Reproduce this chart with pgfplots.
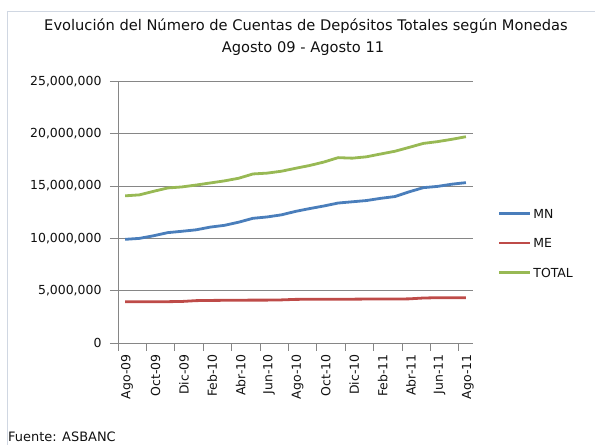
\documentclass[border=0pt]{standalone}
\usepackage{fontspec}
\setmainfont{DejaVu Sans}
\usepackage{pgfplots}
\pgfplotsset{compat=1.18}
\definecolor{mn}{HTML}{4A7EBB}
\definecolor{me}{HTML}{BE4B48}
\definecolor{tot}{HTML}{98B954}
\definecolor{gridc}{HTML}{868686}
\definecolor{framec}{HTML}{D0D7E2}
\definecolor{txt}{HTML}{101010}
\begin{document}
\begin{tikzpicture}[x=1bp,y=1bp]
\useasboundingbox (-118,-102) rectangle (477,343);
\draw[framec, line width=1bp] (-111,331.5) -- (477,331.5);
\draw[framec, line width=1bp] (-110.5,332) -- (-110.5,-102);
\node[font=\fontsize{14.7}{16}\selectfont, text=txt] at (188, 317) {Evolución del Número de Cuentas de Depósitos Totales según Monedas};
\node[font=\fontsize{14.7}{16}\selectfont, text=txt] at (185, 294) {Agosto 09 - Agosto 11};
\node[anchor=west, inner sep=0pt, font=\fontsize{13}{15}\selectfont, text=txt] at (-110, -94) {Fuente: ASBANC};
\begin{axis}[
  at={(0,0)}, anchor=south west,
  scale only axis, width=355bp, height=261.5bp,
  xmin=-0.5, xmax=24.5, ymin=0, ymax=25000000,
  axis x line*=bottom, axis y line*=left,
  axis line style={gridc, line width=0.8bp},
  ymajorgrids, grid style={gridc, line width=0.8bp},
  tick align=outside, major tick length=8bp,
  tick style={gridc, line width=0.8bp},
  scaled y ticks=false,
  ytick={0,5000000,10000000,15000000,20000000,25000000},
  yticklabels={0,{5,000,000},{10,000,000},{15,000,000},{20,000,000},{25,000,000}},
  yticklabel style={font=\fontsize{12.5}{14}\selectfont, text=txt, anchor=east, xshift=-5bp},
  xtick={0,2,...,24},
  xticklabels={Ago-09,Oct-09,Dic-09,Feb-10,Abr-10,Jun-10,Ago-10,Oct-10,Dic-10,Feb-11,Abr-11,Jun-11,Ago-11},
  xtick style={draw=none},
  xticklabel style={font=\fontsize{12.5}{14}\selectfont, text=txt, rotate=90, anchor=east, yshift=-2bp},
  extra x ticks={-0.5,1.5,...,23.5},
  extra x tick labels={},
  extra x tick style={xtick style={draw=gridc, line width=0.8bp}},
  legend style={at={(1.0696,0.3824)}, anchor=west, draw=none, fill=none, inner sep=0pt,
    font=\fontsize{12.5}{14}\selectfont, text=txt, row sep=16bp,
    nodes={inner sep=2bp, text height=9.5bp, text depth=0bp}},
  legend cell align=left,
  legend image code/.code={\draw[#1, line width=2.5bp] (0bp,0bp) -- (31bp,0bp);},
  every axis plot/.append style={line width=2.8bp, line join=round},
]
\addplot[mn] coordinates {
(0,9910000) (1,10000000) (2,10250000) (3,10550000) (4,10680000) (5,10820000) (6,11080000)
(7,11250000) (8,11550000) (9,11920000) (10,12050000) (11,12250000) (12,12580000)
(13,12850000) (14,13100000) (15,13380000) (16,13500000) (17,13620000) (18,13830000)
(19,14000000) (20,14450000) (21,14850000) (22,14970000) (23,15180000) (24,15330000)};
\addlegendentry{MN}
\addplot[me] coordinates {
(0,3950000) (1,3950000) (2,3950000) (3,3950000) (4,3970000) (5,4050000) (6,4070000)
(7,4080000) (8,4090000) (9,4100000) (10,4100000) (11,4120000) (12,4170000)
(13,4180000) (14,4180000) (15,4190000) (16,4190000) (17,4200000) (18,4200000)
(19,4200000) (20,4220000) (21,4300000) (22,4330000) (23,4330000) (24,4330000)};
\addlegendentry{ME}
\addplot[tot] coordinates {
(0,14070000) (1,14160000) (2,14500000) (3,14820000) (4,14920000) (5,15100000) (6,15300000)
(7,15500000) (8,15750000) (9,16160000) (10,16240000) (11,16420000) (12,16700000)
(13,16970000) (14,17300000) (15,17720000) (16,17670000) (17,17800000) (18,18070000)
(19,18330000) (20,18700000) (21,19080000) (22,19250000) (23,19470000) (24,19720000)};
\addlegendentry{TOTAL}
\end{axis}
\end{tikzpicture}
\end{document}
